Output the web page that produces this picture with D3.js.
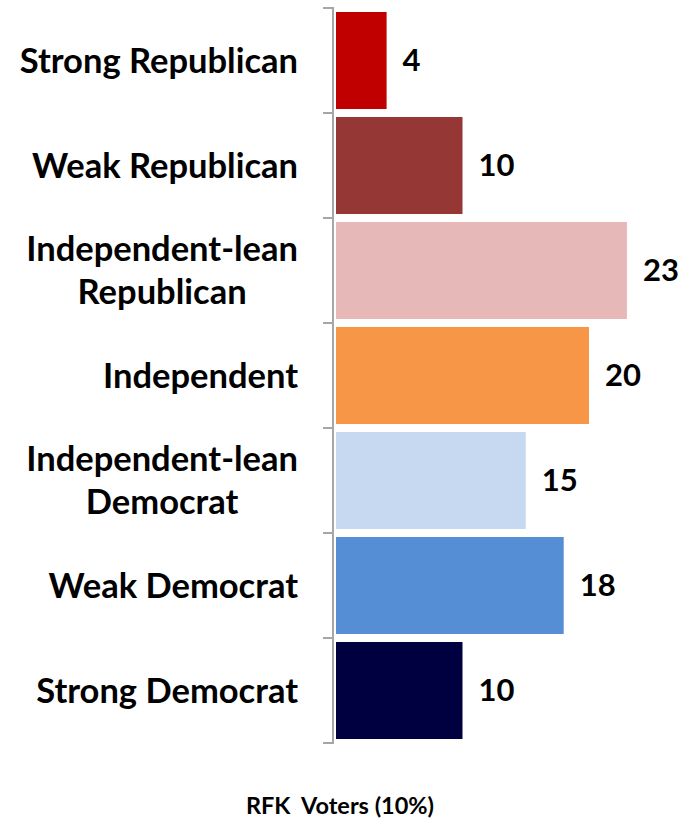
<!DOCTYPE html>
<html><head><meta charset="utf-8">
<script src="https://cdn.jsdelivr.net/npm/d3@7"></script>
<style>
html,body{margin:0;padding:0;background:#fff;}
svg{display:block;}
text{font-family:Lato,"Open Sans",sans-serif;font-weight:700;fill:#000;}
</style></head><body>
<svg id="c" width="694" height="822"></svg>
<script>
const categories = ["Strong Republican","Weak Republican","Independent-lean Republican","Independent","Independent-lean Democrat","Weak Democrat","Strong Democrat"];
const labelLines = [["Strong Republican"],["Weak Republican"],["Independent-lean","Republican"],["Independent"],["Independent-lean","Democrat"],["Weak Democrat"],["Strong Democrat"]];
const values = [4,10,23,20,15,18,10];
const colors = ["#C00000","#953735","#E6B9B8","#F79646","#C6D9F1","#558ED5","#000040"];
const title = "RFK\u00a0\u00a0Voters\u00a0(10%)";

const svg = d3.select("#c");
const x = d3.scaleLinear().domain([0,25]).range([336,652.25]);
const y = d3.scaleBand().domain(categories).range([8,743]).paddingInner(0.076).paddingOuter(0.038);
const axisX = 333;
const fs = 34.5;
const vfs = 31;

// bars
svg.selectAll("rect.bar").data(categories).join("rect")
  .attr("class","bar")
  .attr("x", x(0))
  .attr("y", d=>y(d))
  .attr("width", (d,i)=>x(values[i])-x(0))
  .attr("height", y.bandwidth())
  .attr("fill", (d,i)=>colors[i]);

// axis
const step = y.step();
const bounds = d3.range(categories.length+1).map(i=>y.range()[0] + i*step);
svg.append("line").attr("x1",axisX).attr("x2",axisX).attr("y1",bounds[0]).attr("y2",bounds[bounds.length-1])
  .attr("stroke","#a6a6a6").attr("stroke-width",2);
svg.selectAll("line.tick").data(bounds).join("line").attr("class","tick")
  .attr("x1",axisX-10).attr("x2",axisX+1).attr("y1",d=>d).attr("y2",d=>d)
  .attr("stroke","#a6a6a6").attr("stroke-width",2);

// category labels
const labelRight = 298;
const lineH = 43;
categories.forEach((c,i)=>{
  const lines = labelLines[i];
  const cy = y(c) + y.bandwidth()/2;
  const g = svg.append("g");
  const ts = lines.map((ln,k)=>g.append("text")
      .attr("font-size",fs)
      .attr("y", cy + (k-(lines.length-1)/2)*lineH)
      .attr("dy","0.35em")
      .text(ln));
  const w = d3.max(ts, t=>t.node().getComputedTextLength());
  ts.forEach(t=>t.attr("text-anchor","middle").attr("x", labelRight - w/2));
});

// value labels
svg.selectAll("text.val").data(categories).join("text").attr("class","val")
  .attr("font-size",vfs)
  .attr("x",(d,i)=>x(values[i])+16)
  .attr("y",d=>y(d)+y.bandwidth()/2)
  .attr("dy","0.35em")
  .text((d,i)=>values[i]);

// title
svg.append("text").attr("x",340).attr("y",814).attr("text-anchor","middle")
  .attr("font-size",23.5).text(title);
</script>
</body></html>
